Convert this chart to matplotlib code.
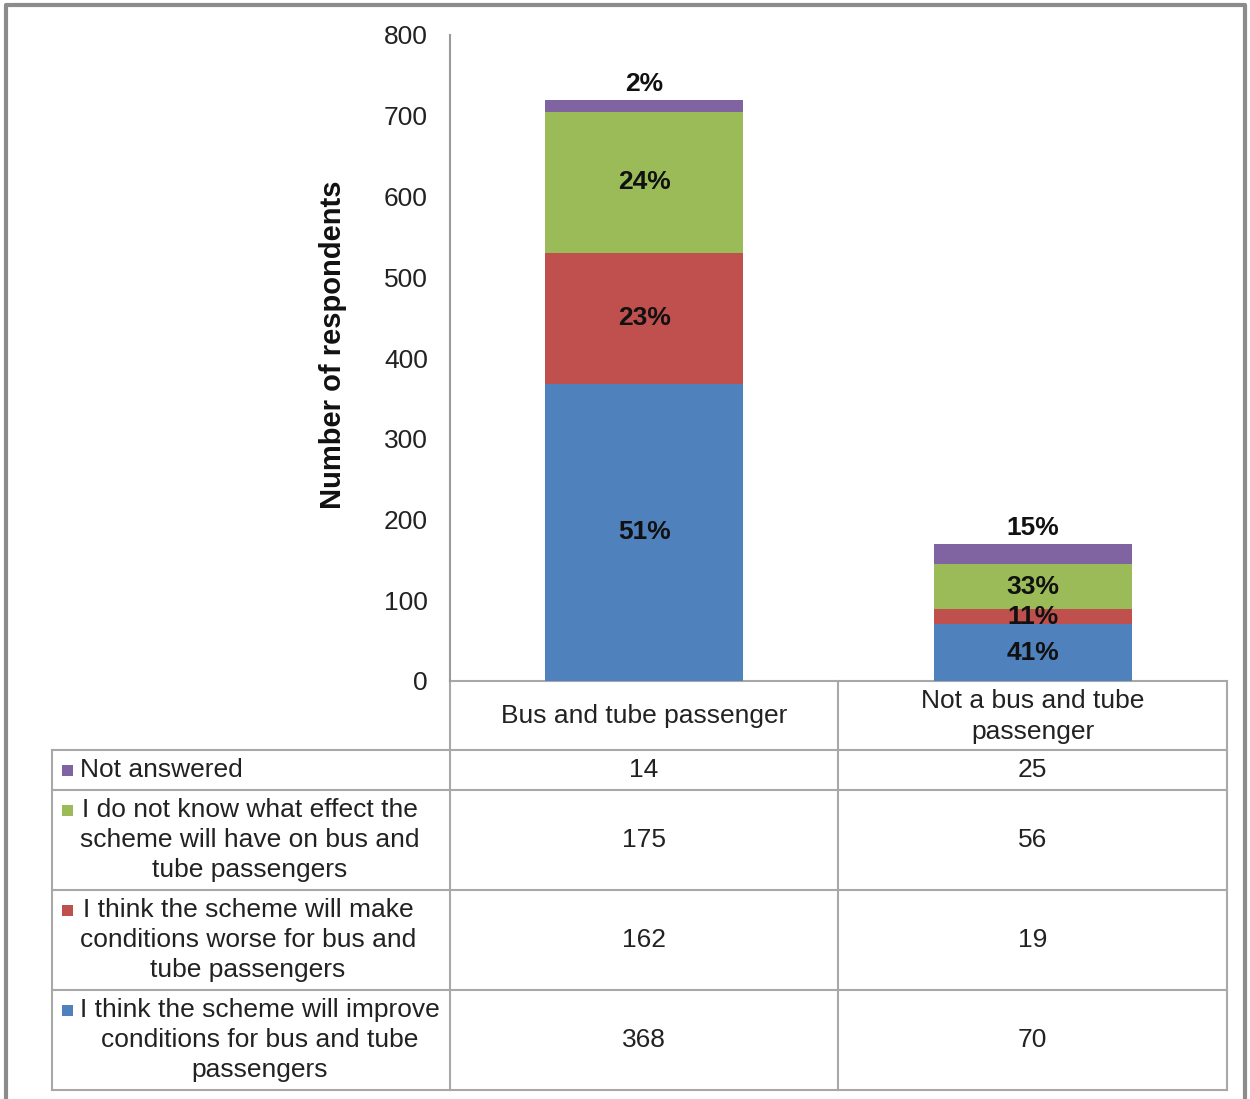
import numpy as np
import matplotlib.pyplot as plt
from matplotlib.patches import Rectangle

plt.rcParams['font.family'] = ['Liberation Sans', 'DejaVu Sans']

groups = ['Bus and tube passenger', 'Not a bus and tube\npassenger']
answers = ['I think the scheme will improve\nconditions for bus and tube\npassengers',
           'I think the scheme will make\nconditions worse for bus and\ntube passengers',
           'I do not know what effect the\nscheme will have on bus and\ntube passengers',
           'Not answered']
improve = [368, 70]
worse = [162, 19]
dont_know = [175, 56]
not_answered = [14, 25]
colors = ['#4F81BD', '#C0504D', '#9BBB59', '#8064A2']
yticks = [0, 100, 200, 300, 400, 500, 600, 700, 800]

W, H = 1250, 1099
fig = plt.figure(figsize=(W / 100, H / 100), dpi=100)

# table / frame overlay in pixel coordinates
ov = fig.add_axes([0, 0, 1, 1])
ov.set_xlim(0, W)
ov.set_ylim(H, 0)
ov.axis('off')

ax = fig.add_axes([450 / W, (H - 681) / H, (1227 - 450) / W, (681 - 35) / H])

series = [improve, worse, dont_know, not_answered]
totals = np.sum(series, axis=0)
x = np.arange(len(groups))
bottom = np.zeros(len(groups))
for k, vals in enumerate(series):
    vals = np.array(vals)
    ax.bar(x, vals, 0.51, bottom=bottom, color=colors[k], linewidth=0)
    pct = np.round(vals / totals * 100).astype(int)
    for i in range(len(groups)):
        if k == len(series) - 1:
            ax.annotate(f'{pct[i]}%', (x[i], bottom[i] + vals[i]), xytext=(0, 3),
                        textcoords='offset points', ha='center', va='bottom',
                        fontsize=19, fontweight='bold', color='#111111')
        else:
            ax.text(x[i], bottom[i] + vals[i] / 2, f'{pct[i]}%', ha='center', va='center',
                    fontsize=19, fontweight='bold', color='#111111')
    bottom += vals

ax.set_xlim(-0.5, 1.5)
ax.set_ylim(0, 800)
ax.set_yticks(yticks)
ax.set_xticks([])
ax.tick_params(axis='y', length=0, pad=16, labelsize=19, labelcolor='#222222')
for s in ['top', 'right', 'bottom']:
    ax.spines[s].set_visible(False)
ax.spines['left'].set_color('#9a9a9a')
ax.spines['left'].set_linewidth(1.5)
ax.set_ylabel('Number of respondents', fontsize=21, fontweight='bold', color='#111111')
ax.yaxis.set_label_coords(-0.133, 0.52)
ax.patch.set_alpha(0)

# data table below the chart
lc = '#a8a8a8'
col_x = [52, 450, 838, 1227]
row_y = [681, 750, 790, 890, 990, 1090]
ov.plot([450, 1227], [681, 681], color=lc, lw=1.5)
for yy in row_y[1:]:
    ov.plot([52, 1227], [yy, yy], color=lc, lw=1.5)
ov.plot([52, 52], [750, 1090], color=lc, lw=1.5)
for xx in col_x[1:]:
    ov.plot([xx, xx], [681, 1090], color=lc, lw=1.5)

centers = [(col_x[1] + col_x[2]) / 2, (col_x[2] + col_x[3]) / 2]
for i, g in enumerate(groups):
    ov.text(centers[i], (681 + 750) / 2 + 1, g, ha='center', va='center', fontsize=19,
            color='#222222', linespacing=1.32)

rows = list(range(len(series)))[::-1]
for r, k in enumerate(rows):
    y0, y1 = row_y[r + 1], row_y[r + 2]
    ov.text(80, (y0 + y1) / 2, answers[k], ha='left', va='center', multialignment='center',
            fontsize=19, color='#222222', linespacing=1.32)
    n_lines = answers[k].count('\n') + 1
    first_line = (y0 + y1) / 2 - (n_lines - 1) / 2 * 30
    ov.add_patch(Rectangle((62, first_line - 5), 11, 11, color=colors[k], lw=0))
    for i in range(len(groups)):
        ov.text(centers[i], (y0 + y1) / 2, str(series[k][i]), ha='center', va='center',
                fontsize=19, color='#222222')

# outer frame
ov.plot([6, 6, 1245, 1245], [H, 5, 5, H], color='#8c8c8c', lw=3)

fig.savefig('out.png', dpi=100)
